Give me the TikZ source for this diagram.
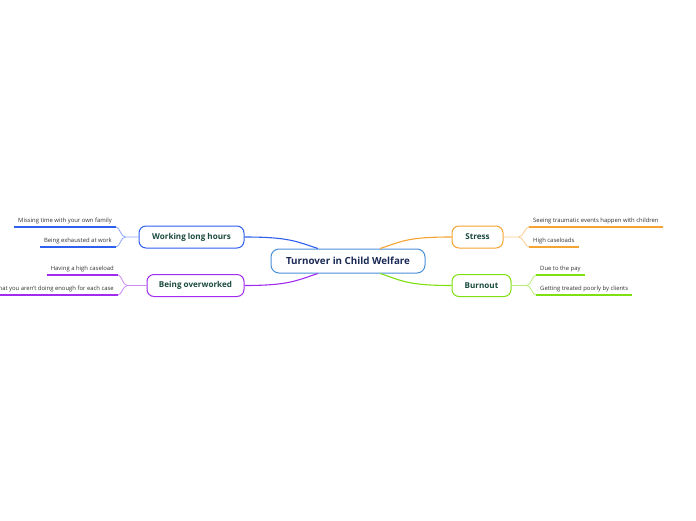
\documentclass[tikz,border=0pt]{standalone}
\usepackage{fontspec}
\setmainfont{Open Sans}
\usetikzlibrary{calc}
\definecolor{rootLine}{HTML}{4A8FD8}
\definecolor{rootInk}{HTML}{1A2A55}
\definecolor{topicInk}{HTML}{1B4B3E}
\definecolor{leafInk}{HTML}{333333}
\definecolor{hoursBlue}{HTML}{2F5FEF}
\definecolor{workPurple}{HTML}{A12BEF}
\definecolor{stressOrange}{HTML}{F5A332}
\definecolor{burnGreen}{HTML}{7FE010}

\tikzset{
  topic/.style={draw=#1, rounded corners=7pt, line width=1pt, fill=white,
    minimum height=22pt, inner sep=0pt, text=topicInk,
    font=\bfseries\fontsize{8.1}{9}\selectfont},
  leaf/.style={inner xsep=4pt, inner ysep=2.8pt, text=leafInk,
    font=\fontsize{5.9}{7}\selectfont},
  under/.style={draw=#1, line width=2pt},
  branch/.style={draw=#1, line width=1.1pt},
  twig/.style={draw=#1!55, line width=0.8pt}
}

\begin{document}
\begin{tikzpicture}[x=1pt,y=-1pt]
  \useasboundingbox[fill=white] (0,0) rectangle (696,520);

  % central topic
  \node[draw=rootLine, rounded corners=8pt, line width=1pt, fill=white,
    minimum width=154pt, minimum height=24pt, inner sep=0pt, text=rootInk,
    font=\bfseries\fontsize{9.8}{11}\selectfont] (root) at (348,261)
    {Turnover in Child Welfare};

  % main topics
  \node[topic=hoursBlue, minimum width=105pt] (hours) at (191.5,237) {Working long hours};
  \node[topic=workPurple, minimum width=97pt] (over) at (195.5,285.5) {Being overworked};
  \node[topic=stressOrange, minimum width=51pt] (stress) at (477.5,237) {Stress};
  \node[topic=burnGreen, minimum width=59pt] (burn) at (481.5,285.5) {Burnout};

  % root to topics
  \draw[branch=hoursBlue] (hours.east) .. controls +(45,0) and +(-22,-7) .. ([xshift=-30pt]root.north);
  \draw[branch=workPurple] (over.east) .. controls +(45,0) and +(-22,7) .. ([xshift=-30pt]root.south);
  \draw[branch=stressOrange] (stress.west) .. controls +(-45,0) and +(22,-7) .. ([xshift=32pt]root.north);
  \draw[branch=burnGreen] (burn.west) .. controls +(-45,0) and +(22,7) .. ([xshift=32pt]root.south);

  % leaves, left side
  \node[leaf, anchor=south east] (family) at (116,227) {Missing time with your own family};
  \node[leaf, anchor=south east] (tired) at (116,247) {Being exhausted at work};
  \node[leaf, anchor=south east] (caseload) at (118,275) {Having a high caseload};
  \node[leaf, anchor=south east] (enough) at (118,295) {that you aren't doing enough for each case};

  % leaves, right side
  \node[leaf, anchor=south west] (trauma) at (529,227) {Seeing traumatic events happen with children};
  \node[leaf, anchor=south west] (loads) at (529,247) {High caseloads};
  \node[leaf, anchor=south west] (pay) at (536,275) {Due to the pay};
  \node[leaf, anchor=south west] (clients) at (536,295) {Getting treated poorly by clients};

  % underlines
  \draw[under=hoursBlue] (family.south west) -- (family.south east);
  \draw[under=hoursBlue] (tired.south west) -- (tired.south east);
  \draw[under=workPurple] (caseload.south west) -- (caseload.south east);
  \draw[under=workPurple] (enough.south west) -- (enough.south east);
  \draw[under=stressOrange] (trauma.south west) -- (trauma.south east);
  \draw[under=stressOrange] (loads.south west) -- (loads.south east);
  \draw[under=burnGreen] (pay.south west) -- (pay.south east);
  \draw[under=burnGreen] (clients.south west) -- (clients.south east);

  % forks
  \coordinate (hoursFork) at ($(hours.west)+(-13,0)$);
  \coordinate (overFork) at ($(over.west)+(-19,0)$);
  \coordinate (stressFork) at ($(stress.east)+(15,0)$);
  \coordinate (burnFork) at ($(burn.east)+(15,0)$);

  \draw[twig=hoursBlue] (hours.west) -- (hoursFork)
    .. controls +(-5,0) and +(4,0) .. (family.south east);
  \draw[twig=hoursBlue] (hoursFork)
    .. controls +(-5,0) and +(4,0) .. (tired.south east);
  \draw[twig=workPurple] (over.west) -- (overFork)
    .. controls +(-5,0) and +(4,0) .. (caseload.south east);
  \draw[twig=workPurple] (overFork)
    .. controls +(-5,0) and +(4,0) .. (enough.south east);
  \draw[twig=stressOrange] (stress.east) -- (stressFork)
    .. controls +(5,0) and +(-4,0) .. (trauma.south west);
  \draw[twig=stressOrange] (stressFork)
    .. controls +(5,0) and +(-4,0) .. (loads.south west);
  \draw[twig=burnGreen] (burn.east) -- (burnFork)
    .. controls +(5,0) and +(-4,0) .. (pay.south west);
  \draw[twig=burnGreen] (burnFork)
    .. controls +(5,0) and +(-4,0) .. (clients.south west);
\end{tikzpicture}
\end{document}
